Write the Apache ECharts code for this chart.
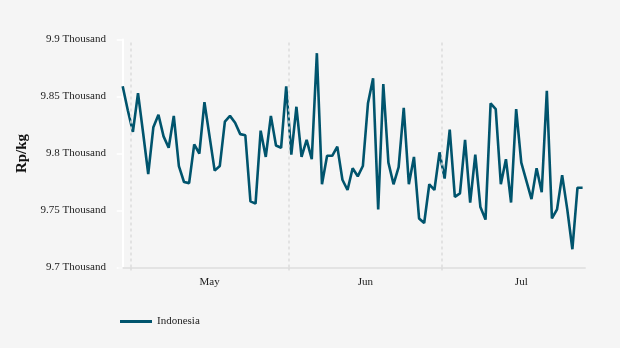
<!DOCTYPE html>
<html>
<head>
<meta charset="utf-8">
<script src="https://cdn.jsdelivr.net/npm/echarts@6/dist/echarts.min.js"></script>
<style>
html,body{margin:0;padding:0;background:#f5f5f5;}
#chart{width:620px;height:348px;}
</style>
</head>
<body>
<div id="chart"></div>
<script>
// Daily prices, Rp/kg, starting 2024-04-29 (one value per day)
const startDate = '2024-04-29';
const seriesName = 'Indonesia';
const values = [
  9859, 9838, 9819, 9853, 9818, 9782, 9823, 9834, 9815, 9805,
  9833, 9789, 9775, 9774, 9808, 9800, 9845, 9815, 9785, 9789,
  9828, 9833, 9827, 9817, 9816, 9758, 9756, 9820, 9797, 9833,
  9807, 9805, 9859, 9799, 9841, 9797, 9812, 9795, 9888, 9773,
  9798, 9798, 9806, 9777, 9768, 9787, 9780, 9789, 9844, 9866,
  9751, 9861, 9792, 9773, 9788, 9840, 9773, 9797, 9743, 9739,
  9773, 9768, 9801, 9778, 9821, 9762, 9765, 9812, 9757, 9799,
  9753, 9742, 9844, 9839, 9773, 9795, 9757, 9839, 9792, 9776,
  9760, 9787, 9766, 9855, 9743, 9751, 9781, 9751, 9716, 9770,
  9770
];
// Month boundaries and month label centres, in days since startDate
const monthStarts = [1.5, 32.5, 62.5];
const monthCentres = [17, 47.5, 78];
const monthLabels = ['May', 'Jun', 'Jul'];
const yTicks = [9700, 9750, 9800, 9850, 9900];

const points = values.map((v, i) => [i, v]);
const font = '"Liberation Serif", "Times New Roman", serif';

const chart = echarts.init(document.getElementById('chart'));
chart.setOption({
  backgroundColor: '#f5f5f5',
  animation: false,
  grid: { left: 119, right: 35, top: 39.5, bottom: 80.5, containLabel: false },
  legend: {
    left: 120, top: 316, padding: 0,
    itemWidth: 32, itemHeight: 3, itemGap: 10,
    textStyle: { fontFamily: font, fontSize: 11, color: '#222' },
    data: [{ name: seriesName, icon: 'rect' }]
  },
  xAxis: {
    type: 'value',
    min: -0.72, max: 90.47,
    axisLine: { show: true, lineStyle: { color: '#e3e3e3', width: 2 } },
    axisTick: { show: true, customValues: monthStarts, length: 5, lineStyle: { color: '#dcdcdc', width: 1.5, type: [3, 3] } },
    splitLine: { show: false },
    axisLabel: {
      customValues: monthCentres,
      margin: 9,
      fontFamily: font, fontSize: 11, color: '#222',
      formatter: v => { const k = monthCentres.indexOf(v); return k >= 0 ? monthLabels[k] : ''; }
    }
  },
  yAxis: {
    type: 'value',
    min: yTicks[0], max: yTicks[yTicks.length - 1], interval: 50,
    name: 'Rp/kg',
    nameLocation: 'middle',
    nameGap: 83,
    nameRotate: 90,
    nameTextStyle: { fontFamily: font, fontSize: 15, fontWeight: 'bold', color: '#111' },
    axisLine: { show: true, lineStyle: { color: '#ffffff', width: 2 } },
    axisTick: { show: true, length: 6, lineStyle: { color: '#ffffff', width: 1.5 } },
    splitLine: { show: false },
    axisLabel: {
      margin: 13,
      fontFamily: font, fontSize: 11, color: '#222',
      formatter: v => parseFloat((v / 1000).toFixed(3)) + ' Thousand'
    }
  },
  series: [{
    name: 'monthLines',
    type: 'line',
    data: [],
    z: 1,
    silent: true,
    markLine: {
      silent: true,
      symbol: 'none',
      label: { show: false },
      lineStyle: { color: '#dcdcdc', width: 1.5, type: [3, 3] },
      data: monthStarts.map(d => ({ xAxis: d }))
    }
  }, {
    name: seriesName,
    type: 'line',
    z: 3,
    data: points,
    symbol: 'none',
    lineStyle: { color: '#00546d', width: 2.6 },
    itemStyle: { color: '#00546d' }
  }]
});
</script>
</body>
</html>
